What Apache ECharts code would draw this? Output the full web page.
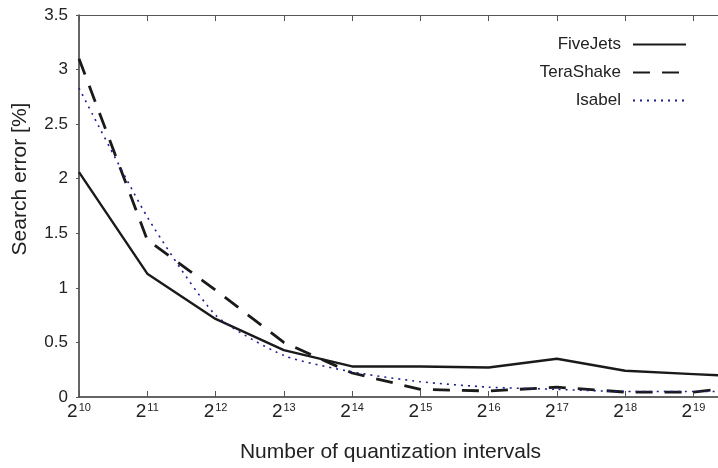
<!DOCTYPE html>
<html>
<head>
<meta charset="utf-8">
<script src="https://cdn.jsdelivr.net/npm/echarts@6/dist/echarts.min.js"></script>
<style>
  html, body { margin: 0; padding: 0; background: #fff; }
  #chart { width: 718px; height: 468px; }
</style>
</head>
<body>
<div id="chart"></div>
<script>
// exponents of 2 on the x axis (last point lies past the cropped right edge)
const exponents = [10, 11, 12, 13, 14, 15, 16, 17, 18, 19, 20];
const fiveJets  = [2.06, 1.13, 0.715, 0.43, 0.28, 0.28, 0.27, 0.35, 0.24, 0.21, 0.18];
const teraShake = [3.10, 1.44, 0.98, 0.50, 0.22, 0.07, 0.055, 0.09, 0.045, 0.045, 0.12];
const isabel    = [2.83, 1.65, 0.75, 0.38, 0.23, 0.14, 0.09, 0.07, 0.05, 0.05, 0.05];
const yTicks = [0, 0.5, 1, 1.5, 2, 2.5, 3, 3.5];

const pairs = vals => exponents.map((e, i) => [e, vals[i]]);

const chart = echarts.init(document.getElementById('chart'));

const font = 'Liberation Sans';

const option = {
    animation: false,
    textStyle: { fontFamily: font },
    grid: { left: 79, top: 15, right: 0, bottom: 71 },
    legend: {
        orient: 'vertical',
        right: 31,
        top: 36,
        padding: 0,
        align: 'right',
        itemWidth: 53,
        itemHeight: 14,
        itemGap: 11,
        itemStyle: { opacity: 0 },
        textStyle: { fontSize: 17, color: '#222', fontFamily: font, padding: [0, 7, 0, 0] },
        data: ['FiveJets', 'TeraShake', 'Isabel']
    },
    xAxis: [
        {
            type: 'value',
            min: 10,
            max: 19.36,
            interval: 1,
            position: 'bottom',
            name: 'Number of quantization intervals',
            nameLocation: 'middle',
            nameGap: 45,
            nameTextStyle: { fontSize: 21, color: '#222', fontFamily: font, padding: [0, 16, 0, 0] },
            axisLine: { lineStyle: { color: '#333', width: 1.5 } },
            axisTick: { inside: true, length: 6, lineStyle: { color: '#555' } },
            splitLine: { show: false },
            axisLabel: {
                margin: 5,
                showMaxLabel: false,
                formatter: v => Number.isInteger(v) ? '{b|2}{s|' + v + '}' : '',
                rich: {
                    b: { fontSize: 19, color: '#222', fontFamily: font },
                    s: { fontSize: 11, color: '#222', fontFamily: font, verticalAlign: 'top', padding: [0, 0, 9, 1] }
                }
            }
        },
        {
            type: 'value',
            min: 10,
            max: 19.36,
            interval: 1,
            position: 'top',
            axisLine: { lineStyle: { color: '#555', width: 1.2 } },
            axisTick: { inside: true, length: 6, lineStyle: { color: '#555' } },
            axisLabel: { show: false },
            splitLine: { show: false }
        }
    ],
    yAxis: {
        type: 'value',
        min: yTicks[0],
        max: yTicks[yTicks.length - 1],
        interval: 0.5,
        name: 'Search error [%]',
        nameLocation: 'middle',
        nameGap: 48,
        nameTextStyle: { fontSize: 21, color: '#222', fontFamily: font, padding: [0, 0, 0, 54] },
        axisLine: { show: true, lineStyle: { color: '#333', width: 1.5 } },
        axisTick: { show: true, length: 3, lineStyle: { color: '#555' } },
        splitLine: { show: false },
        axisLabel: { fontSize: 17, color: '#222', margin: 11, fontFamily: font }
    },
    series: [
        {
            name: 'FiveJets',
            type: 'line',
            data: pairs(fiveJets),
            symbol: 'none',
            lineStyle: { color: '#1a1a1a', width: 2.4, type: 'solid' },
            itemStyle: { color: '#1a1a1a' }
        },
        {
            name: 'TeraShake',
            type: 'line',
            data: pairs(teraShake),
            symbol: 'none',
            lineStyle: { color: '#1a1a1a', width: 2.8, type: [17, 12] },
            itemStyle: { color: '#1a1a1a' }
        },
        {
            name: 'Isabel',
            type: 'line',
            data: pairs(isabel),
            symbol: 'none',
            smooth: 0.2,
            lineStyle: { color: '#1f1f8f', width: 1.6, type: [2, 5] },
            itemStyle: { color: '#1f1f8f' }
        }
    ]
};

chart.setOption(option);
</script>
</body>
</html>
